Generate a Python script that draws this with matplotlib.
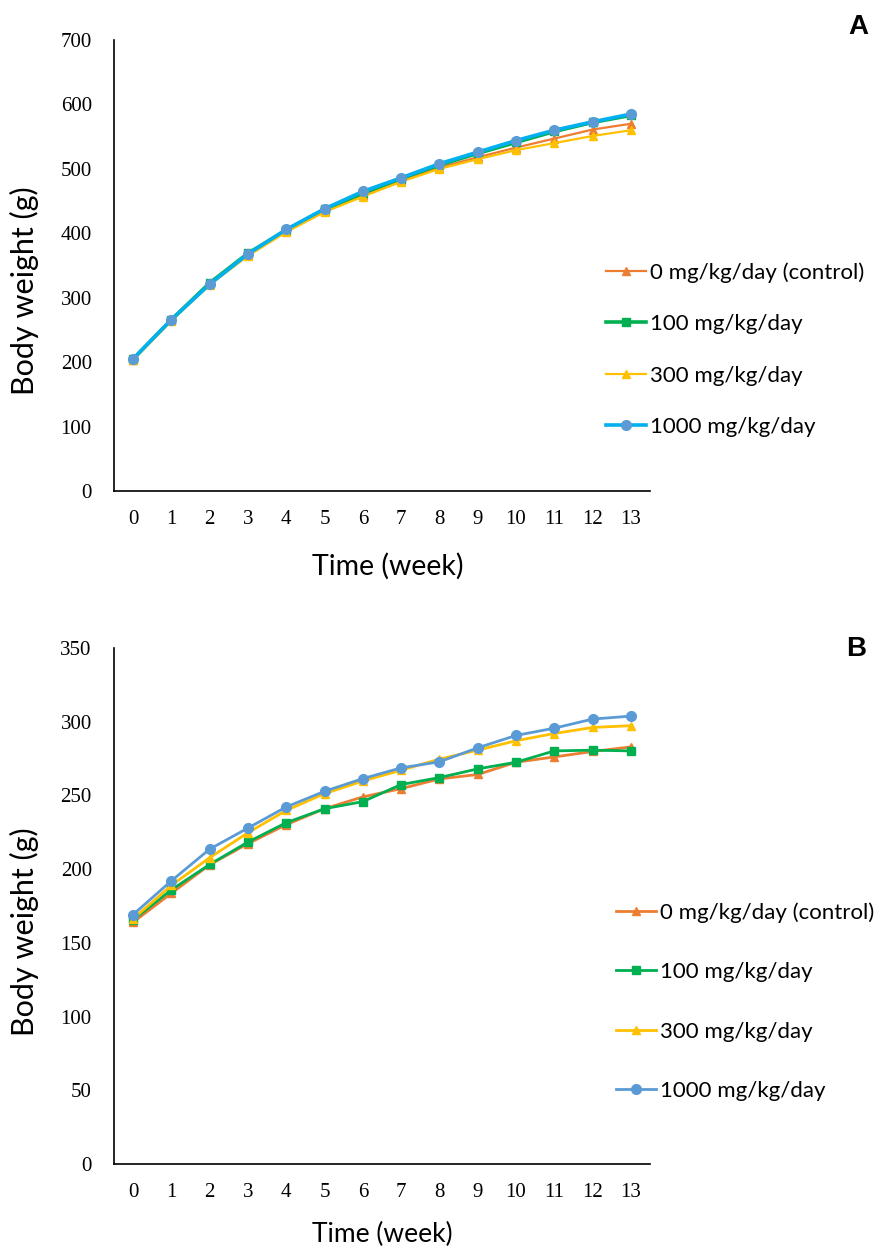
import matplotlib
matplotlib.use("Agg")
import matplotlib.pyplot as plt
from matplotlib.lines import Line2D

weeks = list(range(14))
labels = ['0 mg/kg/day (control)', '100 mg/kg/day', '300 mg/kg/day', '1000 mg/kg/day']

# Panel A - body weight (g)
a_ctrl = [204, 265, 321, 366, 403, 434, 459, 482, 502, 518, 533, 547, 561, 570]
a_100 = [205, 266, 323, 369, 405, 437, 462, 485, 506, 524, 541, 558, 572, 583]
a_300 = [203, 264, 320, 365, 402, 433, 457, 480, 500, 515, 529, 540, 551, 560]
a_1000 = [205, 266, 321, 368, 406, 438, 465, 486, 508, 526, 544, 560, 573, 585]

# Panel B - body weight (g)
b_ctrl = [164, 183.7, 203, 217.3, 230.2, 241, 249, 254.6, 261.2, 264.2, 272.5, 276.1, 279.8, 282.9]
b_100 = [165.6, 186, 203.2, 218.4, 231.5, 241, 245.8, 257.4, 262.1, 268, 272.5, 280.2, 280.7, 280.2]
b_300 = [166.3, 189, 207.8, 224.7, 239.9, 251.2, 259.8, 267.1, 274.6, 280.7, 287.1, 292, 296.1, 297.3]
b_1000 = [169.2, 192.1, 213.6, 227.9, 242.2, 252.8, 261.4, 268.7, 272.8, 282.3, 290.7, 295.6, 301.8, 303.8]

ORANGE = '#ED7D31'
GREEN = '#00B050'
YELLOW = '#FFC000'
BLUE = '#5B9BD5'
CYAN = '#00B0F0'

W, H = 875, 1247
fig = plt.figure(figsize=(W / 100, H / 100), dpi=100)

SANS = ['Lato', 'DejaVu Sans']
SERIF = 'Liberation Serif'


def px(x, y):
    return x / W, 1 - y / H


def make_axes(left, top, right, bottom):
    ax = fig.add_axes([left / W, 1 - bottom / H, (right - left) / W, (bottom - top) / H])
    for s in ['top', 'right']:
        ax.spines[s].set_visible(False)
    for s in ['left', 'bottom']:
        ax.spines[s].set_linewidth(1.2)
    ax.tick_params(length=0, labelsize=15)
    ax.tick_params(axis='y', pad=16)
    ax.tick_params(axis='x', pad=14)
    ax.set_xlim(-0.5, 13.5)
    ax.set_xticks(weeks)
    return ax


# ---- Panel A ----
axA = make_axes(114, 40, 650, 491)
axA.plot(weeks, a_ctrl, color=ORANGE, lw=1.6, marker='^', ms=6)
axA.plot(weeks, a_100, color=GREEN, lw=2.6, marker='s', ms=6)
axA.plot(weeks, a_300, color=YELLOW, lw=1.6, marker='^', ms=6)
axA.plot(weeks, a_1000, color=CYAN, lw=2.6, marker='o', ms=7, mfc=BLUE, mec=BLUE)
axA.set_ylim(0, 700)
axA.set_yticks(range(0, 701, 100))
for t in axA.get_xticklabels() + axA.get_yticklabels():
    t.set_fontfamily(SERIF)

handlesA = [
    Line2D([], [], color=ORANGE, lw=1.6, marker='^', ms=6),
    Line2D([], [], color=GREEN, lw=2.6, marker='s', ms=6),
    Line2D([], [], color=YELLOW, lw=1.6, marker='^', ms=6),
    Line2D([], [], color=CYAN, lw=2.6, marker='o', ms=7, mfc=BLUE, mec=BLUE),
]
fig.legend(handlesA, labels, loc='upper left', bbox_to_anchor=px(606, 262),
           frameon=False, prop={'family': SANS, 'size': 16},
           handlelength=1.8, handletextpad=0.2, labelspacing=1.42,
           borderpad=0, borderaxespad=0)

fig.text(*px(24, 291), 'Body weight (g)', rotation=90, ha='center', va='center',
         family=SANS, fontsize=22)
fig.text(*px(388, 566), 'Time (week)', ha='center', va='center',
         family=SANS, fontsize=20.5)
fig.text(*px(858, 27), 'A', ha='center', va='center', fontsize=20,
         fontweight='bold', family='Liberation Sans')

# ---- Panel B ----
axB = make_axes(114, 648, 650, 1164)
axB.plot(weeks, b_ctrl, color=ORANGE, lw=2, marker='^', ms=6)
axB.plot(weeks, b_100, color=GREEN, lw=2, marker='s', ms=6)
axB.plot(weeks, b_300, color=YELLOW, lw=2, marker='^', ms=6)
axB.plot(weeks, b_1000, color=BLUE, lw=2, marker='o', ms=7)
axB.set_ylim(0, 350)
axB.set_yticks(range(0, 351, 50))
for t in axB.get_xticklabels() + axB.get_yticklabels():
    t.set_fontfamily(SERIF)

handlesB = [
    Line2D([], [], color=ORANGE, lw=2, marker='^', ms=6),
    Line2D([], [], color=GREEN, lw=2, marker='s', ms=6),
    Line2D([], [], color=YELLOW, lw=2, marker='^', ms=6),
    Line2D([], [], color=BLUE, lw=2, marker='o', ms=7),
]
fig.legend(handlesB, labels, loc='upper left', bbox_to_anchor=px(616, 902),
           frameon=False, prop={'family': SANS, 'size': 16},
           handlelength=1.8, handletextpad=0.2, labelspacing=1.78,
           borderpad=0, borderaxespad=0)

fig.text(*px(24, 932), 'Body weight (g)', rotation=90, ha='center', va='center',
         family=SANS, fontsize=22)
fig.text(*px(382, 1234), 'Time (week)', ha='center', va='center',
         family=SANS, fontsize=19)
fig.text(*px(856, 649), 'B', ha='center', va='center', fontsize=20,
         fontweight='bold', family='Liberation Sans')

fig.savefig('out.png', dpi=100)
